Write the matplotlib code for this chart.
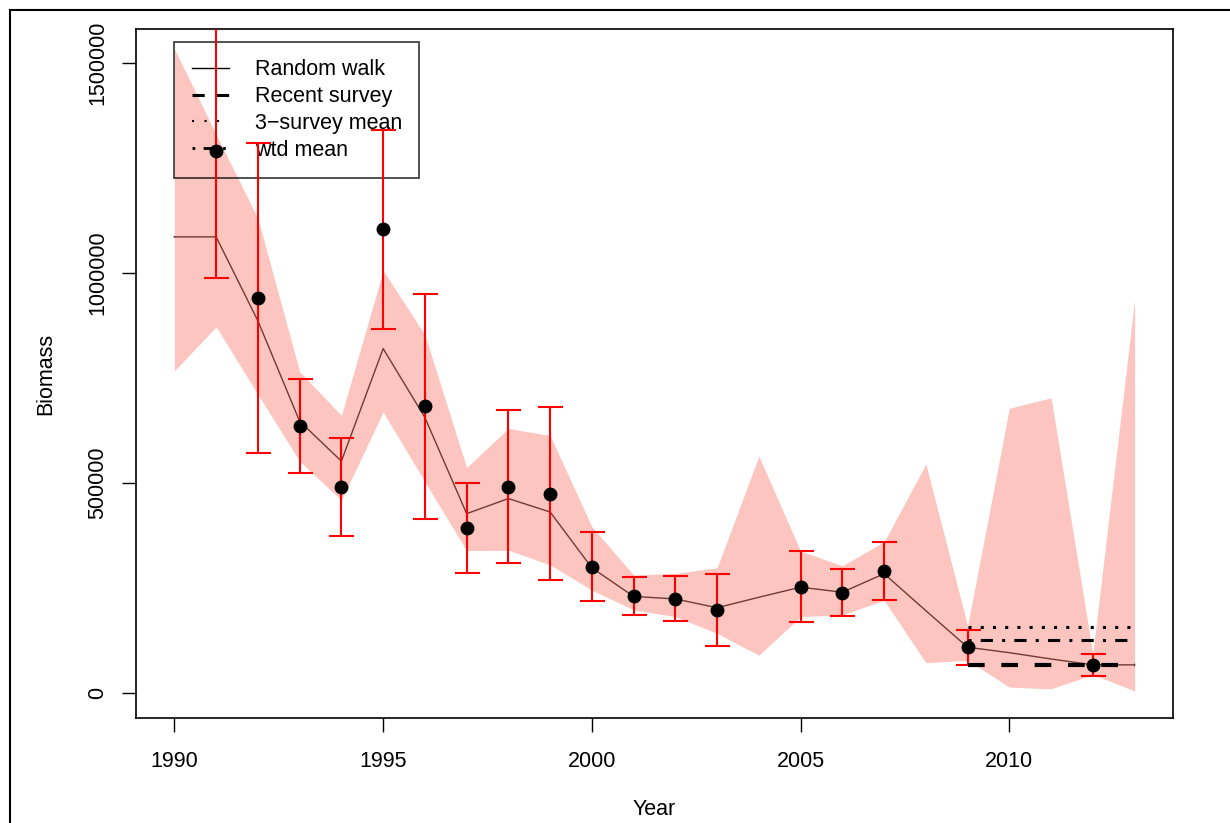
import matplotlib
matplotlib.use("Agg")
import matplotlib.pyplot as plt
from matplotlib.lines import Line2D

plt.rcParams['font.family'] = ['Liberation Sans', 'DejaVu Sans']

# --- DATA ---
years = list(range(1990, 2014))

# random walk fit and its band
rw_fit = [1086000, 1086000, 886000, 647000, 552000, 820000, 656000, 427000,
          463000, 431000, 298000, 230000, 224000, 203000, 228000, 252000,
          240000, 284000, 196000, 109000, 96000, 81000, 67000, 67000]
rw_upper = [1534000, 1330000, 1130000, 765000, 661000, 1006000, 853000, 537000,
            630000, 613000, 396000, 281000, 285000, 298000, 564000, 338000,
            303000, 360000, 545000, 160000, 678000, 703000, 94000, 936000]
rw_lower = [767000, 872000, 711000, 552000, 459000, 669000, 503000, 339000,
            340000, 305000, 245000, 198000, 182000, 142000, 90000, 182000,
            186000, 221000, 72000, 78000, 14000, 10000, 44000, 5000]

# survey estimates with intervals
survey_years = [1991, 1992, 1993, 1994, 1995, 1996, 1997, 1998, 1999, 2000,
                2001, 2002, 2003, 2005, 2006, 2007, 2009, 2012]
survey_est = [1290000, 940000, 636000, 490000, 1104000, 683000, 392000, 491000,
              474000, 301000, 231000, 225000, 197000, 253000, 239000, 291000,
              109000, 67000]
survey_lo = [988000, 572000, 525000, 375000, 866000, 415000, 285000, 309000,
             269000, 219000, 185000, 172000, 112000, 169000, 183000, 221000,
             67000, 41000]
survey_hi = [1650000, 1309000, 748000, 606000, 1341000, 950000, 499000, 675000,
             680000, 383000, 276000, 278000, 283000, 337000, 295000, 360000,
             150000, 92000]

# reference levels over the last years
ref_years = [2009, 2013]
recent_survey = 66000
three_survey_mean = 156000
wtd_mean = 127000

W, H = 1230, 823
fig = plt.figure(figsize=(W / 100, H / 100), dpi=100)
ax = fig.add_axes([136 / W, 1 - 718 / H, (1173 - 136) / W, (718 - 29) / H])

# line first, band on top (band is translucent, tints the line)
ax.plot(years, rw_fit, color='black', lw=1.0, zorder=1)
ax.fill_between(years, rw_lower, rw_upper, color='#FA8072', alpha=0.45,
                lw=0, zorder=2)

yerr = [[e - l for e, l in zip(survey_est, survey_lo)],
        [h - e for e, h in zip(survey_est, survey_hi)]]
ax.errorbar(survey_years, survey_est, yerr=yerr, fmt='none', ecolor='red',
            elinewidth=1.5, capsize=9, capthick=1.5, zorder=4)
ax.plot(survey_years, survey_est, 'o', color='black', ms=9, zorder=5)

ax.plot(ref_years, [recent_survey] * 2, color='black', lw=3, dashes=(4, 4),
        zorder=4)
ax.plot(ref_years, [three_survey_mean] * 2, color='black', lw=2.2,
        dashes=(1, 3), zorder=4)
ax.plot(ref_years, [wtd_mean] * 2, color='black', lw=2.2,
        dashes=(1, 3, 4, 3), zorder=4)

ax.set_xlim(1989.08, 2013.92)
ax.set_ylim(-59500, 1581000)
ax.set_xticks([1990, 1995, 2000, 2005, 2010])
ax.set_yticks([0, 500000, 1000000, 1500000])
ax.set_yticklabels(['0', '500000', '1000000', '1500000'], rotation=90,
                   va='center')
ax.tick_params(direction='out', length=10, width=1, labelsize=15.5)
ax.tick_params(axis='x', pad=14)
ax.tick_params(axis='y', pad=10)
for s in ax.spines.values():
    s.set_linewidth(1.2)

ax.set_xlabel('Year', fontsize=15.5, labelpad=19)
ax.set_ylabel('Biomass', fontsize=15.5, labelpad=22)

handles = [
    Line2D([], [], color='black', lw=1),
    Line2D([], [], color='black', lw=2.2, dashes=(4, 4)),
    Line2D([], [], color='black', lw=1.5, dashes=(1, 5)),
    Line2D([], [], color='black', lw=2, dashes=(1, 3, 4, 3)),
]
labels = ['Random walk', 'Recent survey', '3\u2212survey mean', 'wtd mean']
leg = ax.legend(handles, labels, loc='upper left',
                bbox_to_anchor=(1990, 1550000), bbox_transform=ax.transData,
                borderaxespad=0, fontsize=15.5, fancybox=False,
                edgecolor='black', facecolor='none', framealpha=None,
                handlelength=1.72, handletextpad=1.22, labelspacing=0.27,
                borderpad=0.8)
leg.get_frame().set_linewidth(1.2)
leg.set_zorder(3)

# outer frame of the page
fig.add_artist(Line2D([10 / W, 1], [1 - 10 / H] * 2, color='black', lw=1.5,
                      transform=fig.transFigure))
fig.add_artist(Line2D([10 / W] * 2, [0, 1 - 10 / H], color='black', lw=1.5,
                      transform=fig.transFigure))

fig.savefig('out.png', dpi=100)
